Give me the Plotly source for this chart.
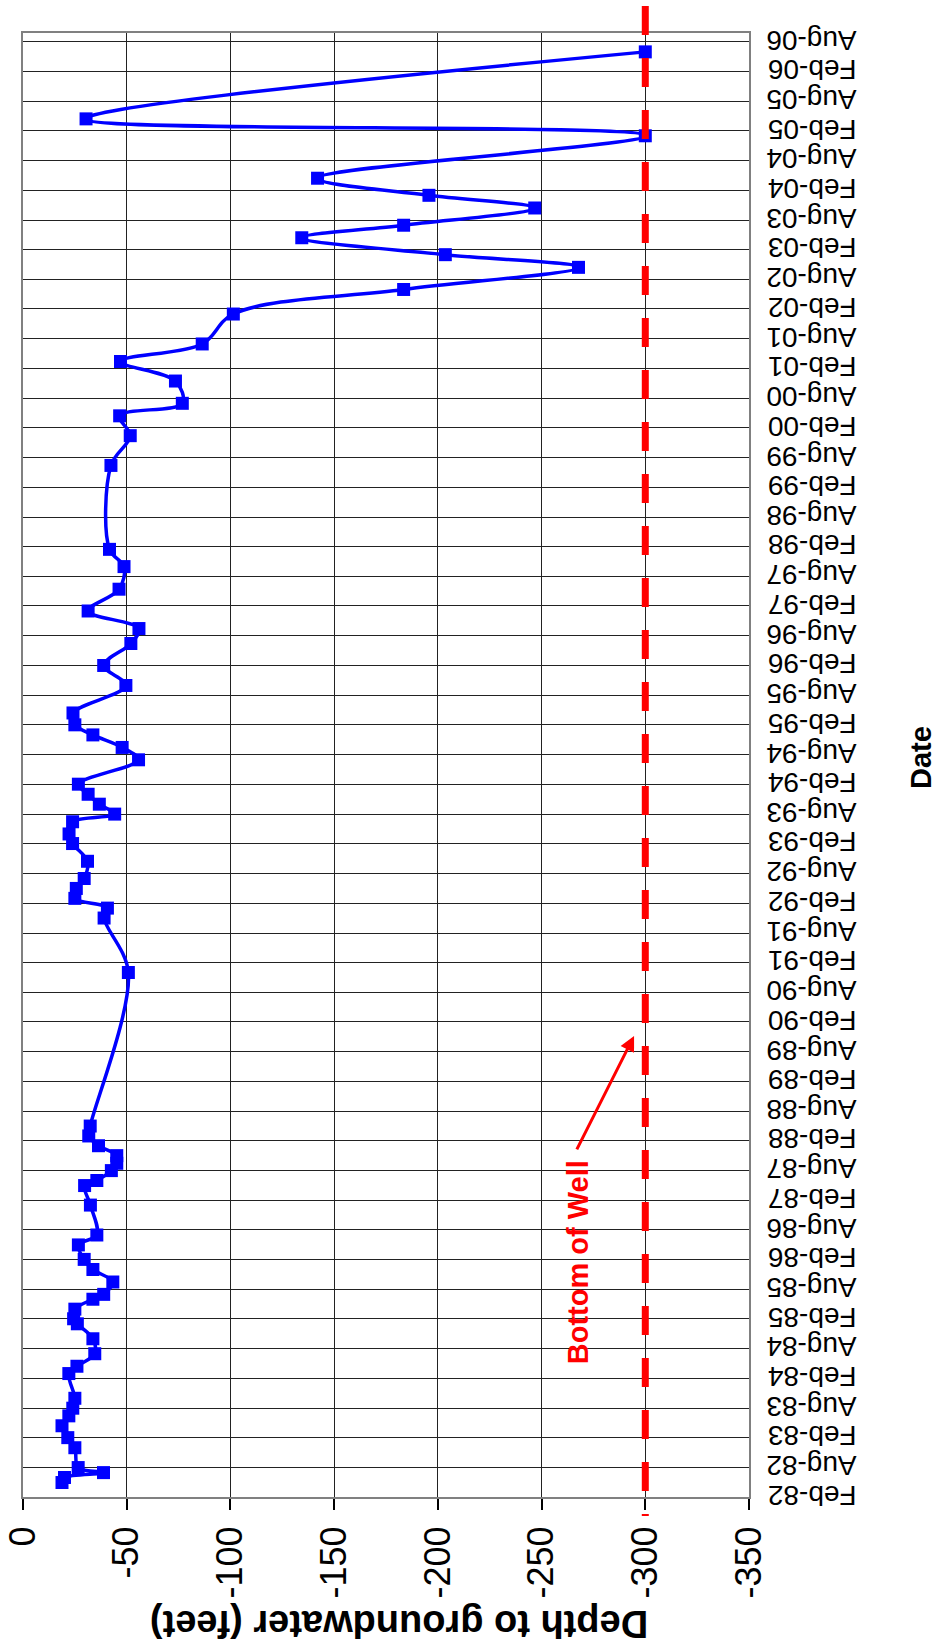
import plotly.graph_objects as go

# ── Data ─────────────────────────────────────────────────────────────────────
DATES = [
    "1982-05-01", "1982-06-01", "1982-07-01", "1982-08-01", "1982-12-01",
    "1983-02-01", "1983-04-15", "1983-06-15", "1983-08-01", "1983-10-01",
    "1984-03-01", "1984-04-15", "1984-07-01", "1984-10-01", "1985-01-01",
    "1985-02-01", "1985-04-01", "1985-06-01", "1985-07-01", "1985-09-15",
    "1985-12-01", "1986-02-01", "1986-05-01", "1986-07-01", "1987-01-01",
    "1987-05-01", "1987-06-01", "1987-08-01", "1987-09-15", "1987-11-01",
    "1988-01-01", "1988-03-01", "1988-05-01", "1990-12-01", "1991-11-01",
    "1992-01-01", "1992-03-01", "1992-05-01", "1992-07-01", "1992-10-15",
    "1993-02-01", "1993-04-01", "1993-06-15", "1993-08-01", "1993-10-01",
    "1993-12-01", "1994-02-01", "1994-07-01", "1994-09-15", "1994-12-01",
    "1995-02-01", "1995-04-15", "1995-10-01", "1996-02-01", "1996-06-15",
    "1996-09-15", "1997-01-01", "1997-05-15", "1997-10-01", "1998-01-15",
    "1999-06-15", "1999-12-15", "2000-04-15", "2000-07-01", "2000-11-15",
    "2001-03-15", "2001-07-01", "2002-01-01", "2002-06-01", "2002-10-15",
    "2003-01-01", "2003-04-15", "2003-07-01", "2003-10-15", "2004-01-01",
    "2004-04-15", "2005-01-01", "2005-04-15", "2006-06-01",
]
DEPTH_FT = [
    -18.8, -20.0, -38.8, -26.6, -25.0,
    -21.6, -18.8, -22.1, -24.0, -25.0,
    -22.1, -26.0, -34.6, -33.7, -26.2,
    -24.4, -25.0, -33.7, -38.9, -43.3,
    -33.7, -29.5, -26.7, -35.6, -32.5,
    -29.7, -35.6, -42.6, -45.2, -45.2,
    -36.4, -31.7, -32.4, -50.8, -39.1,
    -40.7, -25.0, -25.7, -29.5, -31.1,
    -23.9, -22.2, -23.9, -44.2, -36.8,
    -31.4, -26.7, -55.7, -47.8, -33.7,
    -25.0, -24.1, -49.6, -38.9, -52.0,
    -55.9, -31.4, -46.3, -48.7, -41.7,
    -42.4, -51.7, -46.6, -76.8, -73.5,
    -47.0, -86.4, -101.4, -183.5, -267.8,
    -203.6, -134.4, -183.5, -246.7, -195.7,
    -142.0, -300.0, -30.4, -300.0,
]
BOTTOM_OF_WELL = -300

DEPTH_TICKS = [0, -50, -100, -150, -200, -250, -300, -350]
DEPTH_TICK_LABELS = ["0", "-50", "-100", "-150", "-200", "-250", "-300", "-350"]
DATE_RANGE = ["1982-02-01", "2006-09-25"]

# ── Style ────────────────────────────────────────────────────────────────────
FONT = "Liberation Sans, Arial, sans-serif"
BLUE = "#0000ff"
RED = "#ff0000"
GRID = "#222222"
BORDER = "#808080"

fig = go.Figure()

fig.add_trace(go.Scatter(
    x=DEPTH_FT, y=DATES,
    mode="lines+markers",
    line=dict(color=BLUE, width=3.5, shape="spline", smoothing=1.0),
    marker=dict(symbol="square", size=13, color=BLUE),
    showlegend=False,
))

# Bottom of well (dashed, runs past the plot frame like the Excel series)
fig.add_shape(
    type="line", xref="x", yref="paper",
    x0=BOTTOM_OF_WELL, x1=BOTTOM_OF_WELL, y0=1.0184, y1=-0.013,
    line=dict(color=RED, width=7, dash="29px,23px"),
    layer="above",
)

fig.add_annotation(
    x=-294.6, y="1989-11-06", xref="x", yref="y",
    text="", showarrow=True, arrowhead=2, arrowsize=1, arrowwidth=3,
    arrowcolor=RED, ax=-58, ay=115, standoff=0,
)
fig.add_annotation(
    x=-267.6, y="1986-01-15", xref="x", yref="y",
    text="<b>Bottom of Well</b>", showarrow=False, textangle=-90,
    font=dict(family=FONT, size=29, color=RED),
    xanchor="center", yanchor="middle",
)

# Axis titles (rotated like the source picture)
fig.add_annotation(
    x=0.518, y=-0.0867, xref="paper", yref="paper",
    text="<b>Depth to groundwater (feet)</b>", showarrow=False, textangle=180,
    font=dict(family=FONT, size=38, color="black"),
    xanchor="center", yanchor="middle",
)
fig.add_annotation(
    x=1.2370, y=0.5048, xref="paper", yref="paper",
    text="<b>Date</b>", showarrow=False, textangle=-90,
    font=dict(family=FONT, size=29, color="black"),
    xanchor="center", yanchor="middle",
)

fig.update_layout(
    width=940, height=1648,
    paper_bgcolor="white", plot_bgcolor="white",
    margin=dict(l=23, r=191, t=33, b=151, autoexpand=False),
    font=dict(family=FONT, color="black"),
    xaxis=dict(
        range=[0, -350], automargin=False,
        tickvals=DEPTH_TICKS, ticktext=DEPTH_TICK_LABELS,
        tickangle=-90, tickfont=dict(size=36),
        ticks="outside", ticklen=11, tickcolor="black", tickwidth=1.5,
        ticklabelstandoff=2,
        showgrid=True, gridcolor=GRID, gridwidth=1,
        showline=True, linecolor=BORDER, linewidth=2, mirror=True,
        zeroline=False,
    ),
    yaxis=dict(
        type="date", range=DATE_RANGE, automargin=False,
        tick0="1982-02-01", dtick="M6", tickformat="%b-%y",
        side="right", tickangle=180, tickfont=dict(size=28),
        ticks="", ticklabelstandoff=100, ticklabelshift=7,
        showgrid=True, gridcolor=GRID, gridwidth=1,
        showline=True, linecolor=BORDER, linewidth=2, mirror=True,
        zeroline=False,
    ),
    yaxis2=dict(
        type="date", overlaying="y", matches="y", side="left",
        automargin=False,
        tick0="1982-02-01", dtick="M6",
        ticks="inside", ticklen=8, tickcolor="#666666",
        showticklabels=False, showgrid=False, showline=False,
    ),
)

# the page's default body margin would push the figure 8px off the window
fig.write_html(
    "out.html",
    config={"displayModeBar": False},
    post_script="document.body.style.margin = '0';",
)
